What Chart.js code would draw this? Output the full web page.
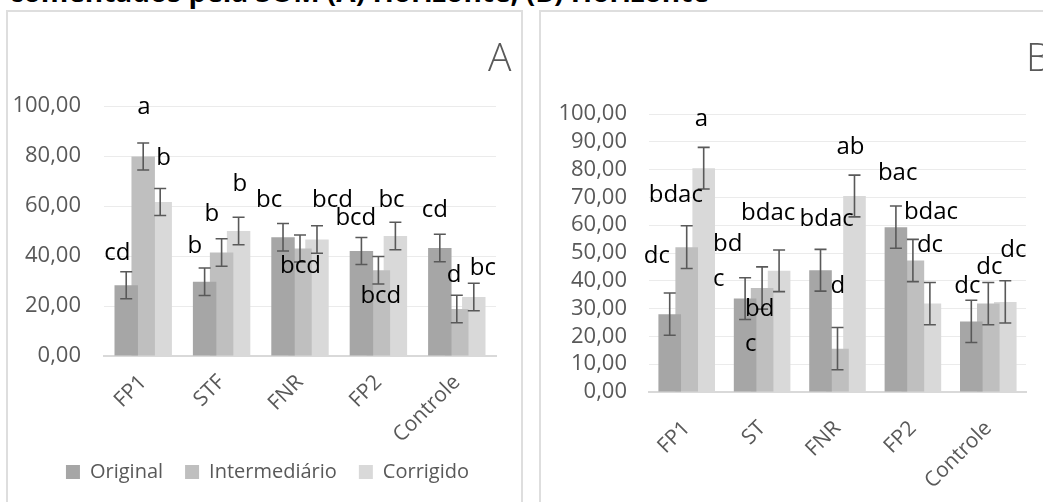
<!DOCTYPE html>
<html lang="pt-BR">
<head>
<meta charset="utf-8">
<title>Horizontes</title>
<script src="https://cdn.jsdelivr.net/npm/chart.js@4.4.1/dist/chart.umd.min.js"></script>
<style>
    html, body { margin: 0; padding: 0; background: #fff; overflow: hidden; }
    body { width: 1043px; height: 502px; position: relative; font-family: 'Open Sans', sans-serif; }
    .titulo { position: absolute; left: 9px; top: -23px; font-weight: 700; font-size: 28px; line-height: 28px; white-space: nowrap; color: #000; }
    .quadro { position: absolute; top: 10px; height: 600px; border: 2px solid #dedede; box-sizing: border-box; background: #fff; }
    #quadroA { left: 6px; width: 517px; }
    #quadroB { left: 539px; width: 600px; }
    .painel { position: absolute; top: 36px; font-weight: 300; font-size: 39px; line-height: 39px; color: #595959; }
    canvas { position: absolute; }
</style>
</head>
<body>
<div class="titulo">comentados pela SOM (A) Horizonte, (B) Horizonte</div>
<div class="quadro" id="quadroA"></div>
<div class="quadro" id="quadroB"></div>
<canvas id="graficoA" width="512" height="490" style="left:9px; top:12px;"></canvas>
<canvas id="graficoB" width="501" height="490" style="left:542px; top:12px;"></canvas>
<div class="painel" style="left:488px;">A</div>
<div class="painel" style="left:1026px;">B</div>

<script>
// séries
const series = ['Original', 'Intermediário', 'Corrigido'];
const coresSeries = ['#a6a6a6', '#bfbfbf', '#d9d9d9'];

// Horizonte A
const categoriasA = ['FP1', 'STF', 'FNR', 'FP2', 'Controle'];
const originalA = [28.3, 29.7, 47.5, 42.0, 43.2];
const intermediarioA = [79.8, 41.4, 43.0, 34.3, 18.8];
const corrigidoA = [61.6, 50.0, 46.6, 48.0, 23.6];
const erroOriginalA = [5.4, 5.5, 5.5, 5.4, 5.5];
const erroIntermediarioA = [5.4, 5.5, 5.4, 5.5, 5.5];
const erroCorrigidoA = [5.4, 5.5, 5.5, 5.5, 5.5];
const letrasOriginalA = ['cd', 'b', 'bc', 'bcd', 'cd'];
const letrasIntermediarioA = ['a', 'b', 'bcd', 'bcd', 'd'];
const letrasCorrigidoA = ['b', 'b', 'bcd', 'bc', 'bc'];
const ticksA = [0, 20, 40, 60, 80, 100];

// Horizonte B
const categoriasB = ['FP1', 'ST', 'FNR', 'FP2', 'Controle'];
const originalB = [28.0, 33.6, 43.8, 59.3, 25.4];
const intermediarioB = [52.1, 37.4, 15.6, 47.3, 31.8];
const corrigidoB = [80.5, 43.6, 70.5, 31.8, 32.4];
const erroOriginalB = [7.6, 7.5, 7.5, 7.6, 7.6];
const erroIntermediarioB = [7.7, 7.6, 7.6, 7.6, 7.6];
const erroCorrigidoB = [7.5, 7.5, 7.5, 7.6, 7.6];
const letrasOriginalB = ['dc', ['bd', 'c'], 'bdac', 'bac', 'dc'];
const letrasIntermediarioB = ['bdac', ['bd', 'c'], 'd', 'bdac', 'dc'];
const letrasCorrigidoB = ['a', 'bdac', 'ab', 'dc', 'dc'];
const ticksB = [0, 10, 20, 30, 40, 50, 60, 70, 80, 90, 100];

// deslocamento das letras [dx, dy] em px a partir do topo de cada barra
const posLetrasA = [
    [[-22, -25], [-17, -29], [-27, -30], [-26, -26], [-18, -31]],
    [[-6, -43], [-17, -32], [-20, 24], [-18, 33], [-10, -27]],
    [[-4, -37], [-6, -40], [-5, -33], [-17, -29], [-4, -22]]
];
const posLetrasB = [
    [[-26, -51], [-32, -48], [-21, -44], [-18, -47], [-17, -28]],
    [[-38, -45], [-17, 28], [-7, -56], [-9, -42], [-12, -30]],
    [[-9, -42], [-38, -51], [-18, -42], [-13, -52], [-5, -45]]
];

Chart.defaults.font.family = "'Open Sans', sans-serif";
Chart.defaults.color = '#595959';

const fmtVirgula = v => v.toFixed(2).replace('.', ',');

// barras de erro desenhadas sobre as barras
const barrasErro = {
    id: 'barrasErro',
    afterDatasetsDraw(chart) {
        const ctx = chart.ctx;
        const y = chart.scales.y;
        ctx.save();
        ctx.strokeStyle = '#595959';
        ctx.lineWidth = 1.6;
        chart.data.datasets.forEach((ds, i) => {
            chart.getDatasetMeta(i).data.forEach((bar, j) => {
                const yt = y.getPixelForValue(ds.data[j] + ds.erro[j]);
                const yb = y.getPixelForValue(ds.data[j] - ds.erro[j]);
                ctx.beginPath();
                ctx.moveTo(bar.x, yt); ctx.lineTo(bar.x, yb);
                ctx.moveTo(bar.x - 6, yt); ctx.lineTo(bar.x + 6, yt);
                ctx.moveTo(bar.x - 6, yb); ctx.lineTo(bar.x + 6, yb);
                ctx.stroke();
            });
        });
        ctx.restore();
    }
};

// letras de significância
const letrasSig = {
    id: 'letrasSig',
    afterDatasetsDraw(chart, args, opts) {
        const ctx = chart.ctx;
        ctx.save();
        ctx.font = "24px 'Open Sans', sans-serif";
        ctx.fillStyle = '#000';
        ctx.textAlign = 'left';
        ctx.textBaseline = 'alphabetic';
        chart.data.datasets.forEach((ds, i) => {
            chart.getDatasetMeta(i).data.forEach((bar, j) => {
                const [dx, dy] = opts.pos[i][j];
                const linhas = [].concat(ds.letras[j]);
                linhas.forEach((t, k) => ctx.fillText(t, bar.x + dx, bar.y + dy + k * 35));
            });
        });
        ctx.restore();
    }
};

function montaDatasets(valores, erros, letras) {
    return series.map((nome, i) => ({
        label: nome,
        data: valores[i],
        erro: erros[i],
        letras: letras[i],
        backgroundColor: coresSeries[i],
        borderWidth: 0
    }));
}

function opcoesGrafico(cfg) {
    const escalas = {
        x: {
            grid: { display: true, drawOnChartArea: false, drawTicks: false },
            border: { display: true, color: '#d9d9d9', width: 2 },
            ticks: { minRotation: 45, maxRotation: 45, padding: cfg.padX, color: '#595959', font: { size: 21 } },
            afterFit(s) { s.height = cfg.alturaX; }
        },
        y: {
            min: 0, max: 100,
            grid: { color: '#ebebeb', drawTicks: false },
            border: { display: false },
            afterBuildTicks(s) { s.ticks = cfg.ticks.map(v => ({ value: v })); },
            ticks: { autoSkip: false, padding: cfg.padY, color: '#595959', font: { size: 22 }, callback: fmtVirgula },
            afterFit(s) { s.width = cfg.larguraY; }
        }
    };
    // margem à direita como eixo vazio, para a legenda ocupar toda a largura
    if (cfg.margemDir) {
        escalas.yDir = {
            position: 'right',
            grid: { display: false },
            border: { display: false },
            ticks: { display: false },
            afterFit(s) { s.width = cfg.margemDir; }
        };
    }
    return {
        responsive: false,
        animation: false,
        layout: { padding: cfg.padding },
        datasets: { bar: { categoryPercentage: cfg.catPct, barPercentage: cfg.barPct } },
        plugins: {
            legend: {
                display: cfg.legenda,
                position: 'bottom',
                labels: {
                    boxWidth: 14, boxHeight: 14, padding: 22,
                    color: '#595959', font: { size: 20 }
                }
            },
            tooltip: { enabled: false },
            letrasSig: { pos: cfg.pos }
        },
        scales: escalas
    };
}

const graficoA = new Chart(document.getElementById('graficoA'), {
    type: 'bar',
    data: {
        labels: categoriasA,
        datasets: montaDatasets(
            [originalA, intermediarioA, corrigidoA],
            [erroOriginalA, erroIntermediarioA, erroCorrigidoA],
            [letrasOriginalA, letrasIntermediarioA, letrasCorrigidoA])
    },
    options: opcoesGrafico({
        padding: { left: 5, right: 0, top: 94, bottom: 10 },
        catPct: 0.65, barPct: 1.38,
        legenda: true, pos: posLetrasA, margemDir: 25,
        alturaX: 84, larguraY: 90, padY: 23, padX: 14, ticks: ticksA
    }),
    plugins: [barrasErro, letrasSig]
});

const graficoB = new Chart(document.getElementById('graficoB'), {
    type: 'bar',
    data: {
        labels: categoriasB,
        datasets: montaDatasets(
            [originalB, intermediarioB, corrigidoB],
            [erroOriginalB, erroIntermediarioB, erroCorrigidoB],
            [letrasOriginalB, letrasIntermediarioB, letrasCorrigidoB])
    },
    options: opcoesGrafico({
        padding: { left: 0, right: 17, top: 102, bottom: 10 },
        catPct: 0.676, barPct: 1.33,
        legenda: false, pos: posLetrasB,
        alturaX: 100, larguraY: 107, padY: 22, padX: 24, ticks: ticksB
    }),
    plugins: [barrasErro, letrasSig]
});
</script>
</body>
</html>
